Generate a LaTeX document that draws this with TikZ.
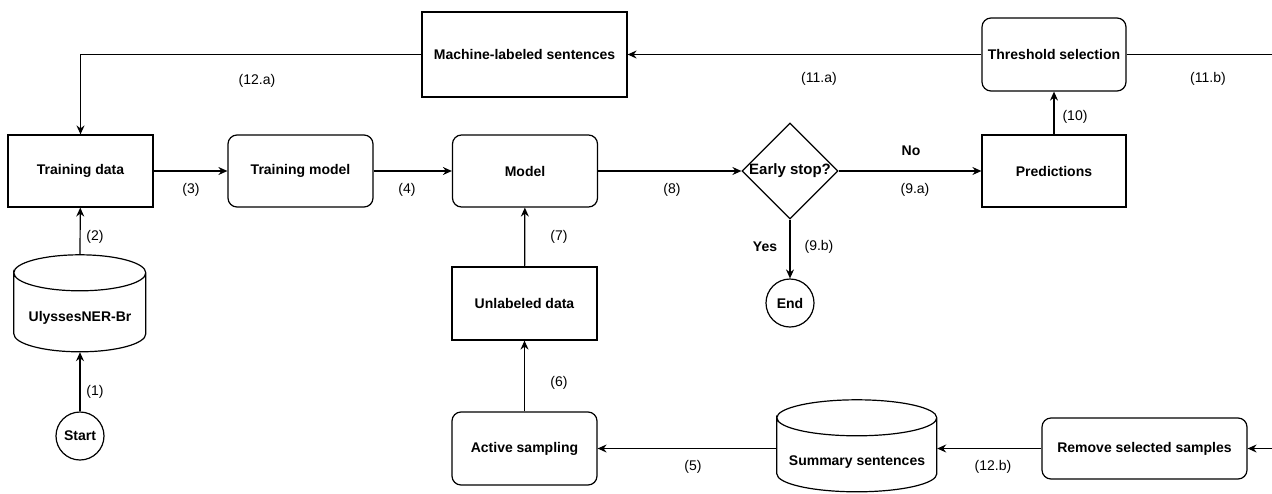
\documentclass[tikz,border=0pt]{standalone}
\usepackage{fontspec}
\setmainfont{Liberation Sans}
\usetikzlibrary{arrows.meta,shapes.geometric}
\tikzset{
  box/.style={draw,line width=1.2pt,minimum width=145pt,minimum height=72pt,inner sep=0pt,font=\fontsize{14}{16}\selectfont\bfseries},
  rbox/.style={box,rounded corners=9pt},
  term/.style={draw,circle,line width=1.2pt,minimum size=48pt,inner sep=0pt,font=\fontsize{14}{16}\selectfont\bfseries},
  db/.style={minimum width=132pt,minimum height=97pt,inner sep=0pt},
  lbl/.style={font=\fontsize{14}{16}\selectfont,inner sep=0pt},
  edge/.style={line width=1.2pt,-{Stealth[length=9pt,width=8pt,inset=3pt]}}
}
\begin{document}
\begin{tikzpicture}[x=1pt,y=-1pt]
  \useasboundingbox (0,0) rectangle (1272,493);
  \node[box] (train) at (80.5,171) {Training data};
  \node[rbox] (tmodel) at (300.5,171) {Training model};
  \node[rbox] (model) at (525,171) {Model};
  \node[draw,diamond,line width=1.2pt,minimum size=96pt,inner sep=0pt,
        label={[font=\fontsize{15}{17}\selectfont\bfseries]center:Early stop?}] (stop) at (790,171) {};
  \node[box,minimum width=144pt] (pred) at (1054,171) {Predictions};
  \node[rbox,minimum width=144pt,minimum height=73pt] (thresh) at (1054,54.5) {Threshold selection};
  \node[box,minimum width=205pt,minimum height=85pt] (mls) at (524.5,54.5) {Machine-labeled sentences};
  \node[db] (uly) at (80,303.5) {};
  \node[box,draw=none,minimum width=0pt,minimum height=0pt] (ulytext) at (80,318) {UlyssesNER-Br};
  \node[term] (start) at (80,436) {Start};
  \node[term] (end) at (790,303) {End};
  \node[box,minimum height=73pt] (unl) at (524.5,303.5) {Unlabeled data};
  \node[rbox,minimum height=73pt] (active) at (524.5,448.5) {Active sampling};
  \node[db,minimum width=160pt,minimum height=92pt] (summ) at (857,446) {};
  \node[box,draw=none,minimum width=0pt,minimum height=0pt] (summtext) at (857,462) {Summary sentences};
  \node[rbox,minimum width=205pt,minimum height=61pt] (remove) at (1144.5,448.5) {Remove selected samples};
  \coordinate (rout) at (1272,54.5);
  \coordinate (rin) at (1272,448.5);

  \draw[line width=1.2pt] (uly.north west) ++(0,18) arc[start angle=180,end angle=-180,x radius=66pt,y radius=18pt]
    -- ++(0,61) arc[start angle=180,end angle=360,x radius=66pt,y radius=18pt] -- ++(0,-61);
  \draw[line width=1.2pt] (summ.north west) ++(0,18) arc[start angle=180,end angle=-180,x radius=80pt,y radius=18pt]
    -- ++(0,56) arc[start angle=180,end angle=360,x radius=80pt,y radius=18pt] -- ++(0,-56);

  \draw[edge] (start) -- (uly.south);
  \draw[edge] (uly.north) -- (train);
  \draw[edge] (train) -- (tmodel);
  \draw[edge] (tmodel) -- (model);
  \draw[edge] (model) -- (stop.west);
  \draw[edge] (stop.east) -- (pred.west);
  \draw[edge] (stop.south) -- (end);
  \draw[edge] (pred) -- (thresh);
  \draw[edge] (thresh) -- (mls);
  \draw[edge] (mls.west) -| (train.north);
  \draw[line width=1.2pt] (thresh.east) -- (rout);
  \draw[edge] (rin) -- (remove.east);
  \draw[edge] (remove.west) -- (remove.west -| summ.east);
  \draw[edge] (remove.west -| summ.west) -- (remove.west -| active.east);
  \draw[edge] (active) -- (unl);
  \draw[edge] (unl) -- (model);

  \node[lbl] (l1) at (95,392) {(1)};
  \node[lbl] (l2) at (95,237) {(2)};
  \node[lbl] (l3) at (191,190) {(3)};
  \node[lbl] (l4) at (407,190) {(4)};
  \node[lbl] (l5) at (693,467) {(5)};
  \node[lbl] (l6) at (559,383) {(6)};
  \node[lbl] (l7) at (559,237) {(7)};
  \node[lbl] (l8) at (672,190) {(8)};
  \node[lbl,font=\fontsize{14}{16}\selectfont\bfseries] (lno) at (911,151) {No};
  \node[lbl] (l9a) at (915,190) {(9.a)};
  \node[lbl,font=\fontsize{14}{16}\selectfont\bfseries] (lyes) at (765,247) {Yes};
  \node[lbl] (l9b) at (819,247) {(9.b)};
  \node[lbl] (l10) at (1075,117) {(10)};
  \node[lbl] (l11a) at (819,79) {(11.a)};
  \node[lbl] (l11b) at (1208,79) {(11.b)};
  \node[lbl] (l12a) at (257,81) {(12.a)};
  \node[lbl] (l12b) at (993,467) {(12.b)};
\end{tikzpicture}
\end{document}
